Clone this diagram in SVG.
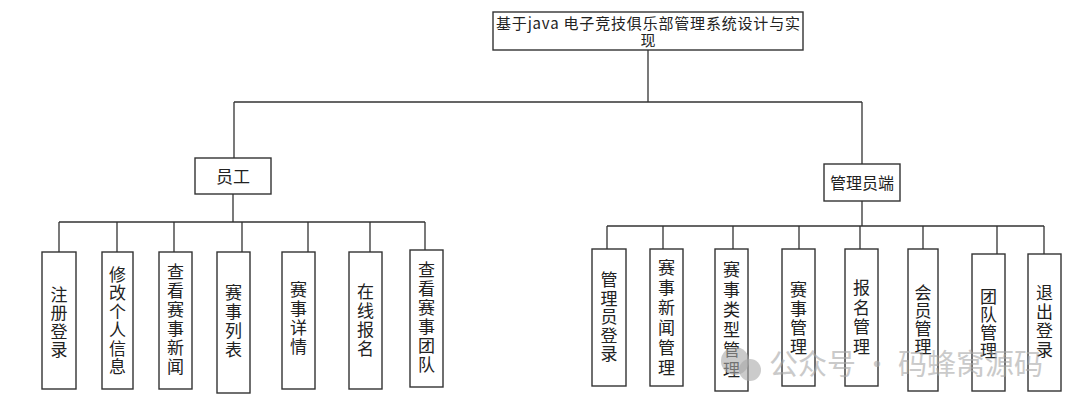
<svg xmlns="http://www.w3.org/2000/svg" width="1080" height="410" viewBox="0 0 1080 410">
<style>
.box{fill:#fff;stroke:#333;stroke-width:1.4}
.ln{fill:none;stroke:#333;stroke-width:1.3}
.t{font-family:"Noto Sans CJK SC","Noto Sans",sans-serif;fill:#222;text-anchor:middle}
.v{font-size:17px}
.wm{font-family:"Noto Sans CJK SC",sans-serif;font-size:29px;fill:#a8a8a8;opacity:0.6}
</style>
<rect width="1080" height="410" fill="#fff"/>
<g id="connectors">
<path class="ln" d="M648 50V102M234 102H862M234 102V158M862 102V164"/>
<path class="ln" d="M233 194V222M59 222H425M59 222V252M117 222V252M174 222V252M242 222V252M308 222V252M370 222V252M425 222V250"/>
<path class="ln" d="M862 201V226M607 226H1044M607 226V249M663 226V249M733 226V249M799 226V249M860 226V249M923 226V249M997 226V254M1044 226V254"/>
</g>
<g id="root">
<rect class="box" x="493" y="12" width="310" height="38"/>
<text class="t" font-size="15" x="648" y="29" textLength="304" lengthAdjust="spacing">基于java 电子竞技俱乐部管理系统设计与实</text>
<text class="t" font-size="15" x="648" y="46">现</text>
</g>
<g id="employee">
<rect class="box" x="195" y="158" width="76" height="36"/>
<text class="t" font-size="17" x="233" y="183">员工</text>
</g>
<g id="admin">
<rect class="box" x="824" y="164" width="76" height="37"/>
<text class="t" font-size="16" x="862" y="189">管理员端</text>
</g>
<g id="e1"><rect class="box" x="42" y="252" width="34" height="137"/>
<text class="t v" x="59" y="301"><tspan x="59">注</tspan><tspan x="59" dy="18.4">册</tspan><tspan x="59" dy="18.4">登</tspan><tspan x="59" dy="18.4">录</tspan></text></g>
<g id="e2"><rect class="box" x="102" y="252" width="31" height="137"/>
<text class="t v" x="117.5" y="281"><tspan x="117.5">修</tspan><tspan x="117.5" dy="18.4">改</tspan><tspan x="117.5" dy="18.4">个</tspan><tspan x="117.5" dy="18.4">人</tspan><tspan x="117.5" dy="18.4">信</tspan><tspan x="117.5" dy="18.4">息</tspan></text></g>
<g id="e3"><rect class="box" x="159" y="252" width="33" height="137"/>
<text class="t v" x="175.5" y="278"><tspan x="175.5">查</tspan><tspan x="175.5" dy="19">看</tspan><tspan x="175.5" dy="19">赛</tspan><tspan x="175.5" dy="19">事</tspan><tspan x="175.5" dy="19">新</tspan><tspan x="175.5" dy="19">闻</tspan></text></g>
<g id="e4"><rect class="box" x="217" y="252" width="33" height="141"/>
<text class="t v" x="233.5" y="299"><tspan x="233.5">赛</tspan><tspan x="233.5" dy="19">事</tspan><tspan x="233.5" dy="19">列</tspan><tspan x="233.5" dy="19">表</tspan></text></g>
<g id="e5"><rect class="box" x="282" y="252" width="33" height="137"/>
<text class="t v" x="298.5" y="296"><tspan x="298.5">赛</tspan><tspan x="298.5" dy="19">事</tspan><tspan x="298.5" dy="19">详</tspan><tspan x="298.5" dy="19">情</tspan></text></g>
<g id="e6"><rect class="box" x="349" y="252" width="33" height="137"/>
<text class="t v" x="365.5" y="298"><tspan x="365.5">在</tspan><tspan x="365.5" dy="19">线</tspan><tspan x="365.5" dy="19">报</tspan><tspan x="365.5" dy="19">名</tspan></text></g>
<g id="e7"><rect class="box" x="410" y="250" width="33" height="137"/>
<text class="t v" x="426.5" y="276"><tspan x="426.5">查</tspan><tspan x="426.5" dy="19">看</tspan><tspan x="426.5" dy="19">赛</tspan><tspan x="426.5" dy="19">事</tspan><tspan x="426.5" dy="19">团</tspan><tspan x="426.5" dy="19">队</tspan></text></g>
<g id="a1"><rect class="box" x="592" y="249" width="34" height="137"/>
<text class="t v" x="609" y="286"><tspan x="609">管</tspan><tspan x="609" dy="18.5">理</tspan><tspan x="609" dy="18.5">员</tspan><tspan x="609" dy="18.5">登</tspan><tspan x="609" dy="18.5">录</tspan></text></g>
<g id="a2"><rect class="box" x="650" y="249" width="33" height="137"/>
<text class="t v" x="666.5" y="274"><tspan x="666.5">赛</tspan><tspan x="666.5" dy="20">事</tspan><tspan x="666.5" dy="20">新</tspan><tspan x="666.5" dy="20">闻</tspan><tspan x="666.5" dy="20">管</tspan><tspan x="666.5" dy="20">理</tspan></text></g>
<g id="a3"><rect class="box" x="715" y="249" width="33" height="142"/>
<text class="t v" x="731.5" y="276"><tspan x="731.5">赛</tspan><tspan x="731.5" dy="20">事</tspan><tspan x="731.5" dy="20">类</tspan><tspan x="731.5" dy="20">型</tspan><tspan x="731.5" dy="20">管</tspan><tspan x="731.5" dy="20">理</tspan></text></g>
<g id="a4"><rect class="box" x="782" y="249" width="33" height="137"/>
<text class="t v" x="798.5" y="296"><tspan x="798.5">赛</tspan><tspan x="798.5" dy="19">事</tspan><tspan x="798.5" dy="19">管</tspan><tspan x="798.5" dy="19">理</tspan></text></g>
<g id="a5"><rect class="box" x="845" y="249" width="33" height="137"/>
<text class="t v" x="861.5" y="294"><tspan x="861.5">报</tspan><tspan x="861.5" dy="19.5">名</tspan><tspan x="861.5" dy="19.5">管</tspan><tspan x="861.5" dy="19.5">理</tspan></text></g>
<g id="a6"><rect class="box" x="908" y="249" width="30" height="142"/>
<text class="t v" x="923" y="299"><tspan x="923">会</tspan><tspan x="923" dy="18">员</tspan><tspan x="923" dy="18">管</tspan><tspan x="923" dy="18">理</tspan></text></g>
<g id="a7"><rect class="box" x="972" y="254" width="33" height="137"/>
<text class="t v" x="988.5" y="303"><tspan x="988.5">团</tspan><tspan x="988.5" dy="18">队</tspan><tspan x="988.5" dy="18">管</tspan><tspan x="988.5" dy="18">理</tspan></text></g>
<g id="a8"><rect class="box" x="1028" y="254" width="33" height="137"/>
<text class="t v" x="1044.5" y="299"><tspan x="1044.5">退</tspan><tspan x="1044.5" dy="19">出</tspan><tspan x="1044.5" dy="19">登</tspan><tspan x="1044.5" dy="19">录</tspan></text></g>
<g id="watermark">
<circle cx="735" cy="361" r="14" fill="#a8a8a8" opacity="0.6"/>
<circle cx="750" cy="370" r="11" fill="#a8a8a8" opacity="0.6"/>
<text class="wm" x="769" y="375" textLength="274" lengthAdjust="spacing">公众号 · 码蜂窝源码</text>
</g>
</svg>
